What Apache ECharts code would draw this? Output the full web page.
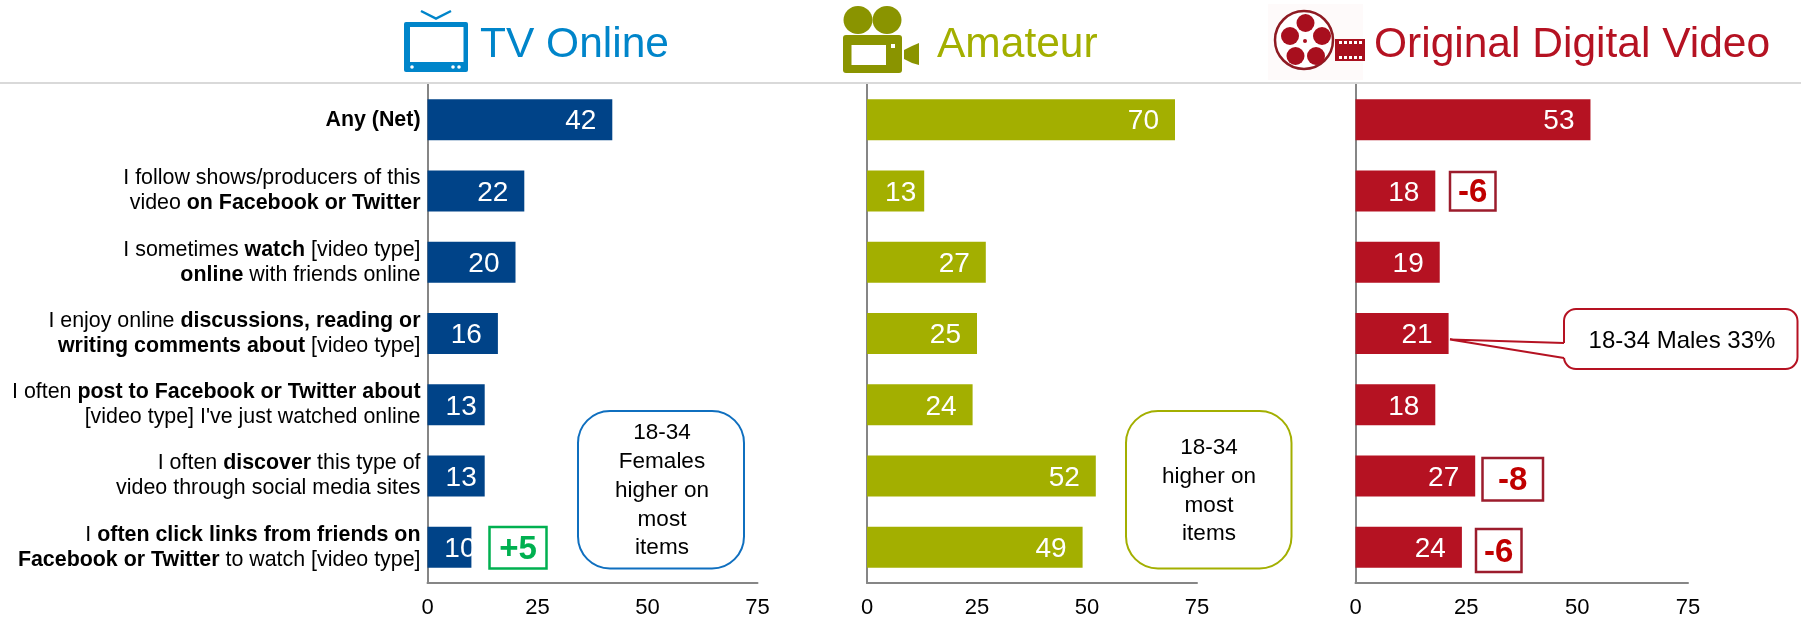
<!DOCTYPE html>
<html>
<head>
<meta charset="utf-8">
<style>html,body{margin:0;padding:0;background:#fff}#c{width:1801px;height:620px}</style>
<script src="https://cdn.jsdelivr.net/npm/echarts@6/dist/echarts.min.js"></script>
</head>
<body>
<div id="c"></div>
<script>
const categories = [
  "{b|Any (Net)}",
  "I follow shows/producers of this\nvideo {b|on Facebook or Twitter}",
  "I sometimes {b|watch} [video type]\n{b|online} with friends online",
  "I enjoy online {b|discussions, reading or}\n{b|writing comments about} [video type]",
  "I often {b|post to Facebook or Twitter about}\n[video type] I've just watched online",
  "I often {b|discover} this type of\nvideo through social media sites",
  "I {b|often click links from friends on}\n{b|Facebook or Twitter} to watch [video type]"
];
const tvOnline = [42, 22, 20, 16, 13, 13, 10];
const amateur = [70, 13, 27, 25, 24, 52, 49];
const originalDigital = [53, 18, 19, 21, 18, 27, 24];
const panelTitles = ["TV Online", "Amateur", "Original Digital Video"];
const FONT = '"Liberation Sans", Arial, sans-serif';
const COL = {tv:'#004388', am:'#A3AF00', od:'#B51222', axis:'#868686', sep:'#D9D9D9'};

const grids = [{left:427.5,width:330},{left:867,width:330},{left:1355.5,width:332.5}]
  .map(g=>({left:g.left,width:g.width,top:84,height:499,containLabel:false}));

function labelGap(v){ return v<=10 ? -4 : (v<=13 ? 8 : 16); }

function series(i,vals,color){
  return {type:'bar',xAxisIndex:i,yAxisIndex:i,barWidth:41,z:2,
    itemStyle:{color:color},
    data:vals.map(v=>({value:v,label:{show:true,position:'insideRight',distance:labelGap(v),offset:[0,2],
      color:'#fff',fontSize:28,fontFamily:FONT,formatter:'{c}'}}))};
}

const t=(x,y,text,o)=>({type:'text',z:20,style:Object.assign({x,y,text,fontFamily:FONT,fill:'#000',align:'center',verticalAlign:'middle'},o||{})});
const rect=(x,y,w,h,s,r,z)=>({type:'rect',z:z||15,shape:{x,y,width:w,height:h,r:r||0},style:s});
const box=(x,y,w,h,stroke,txt,fill,fs)=>[
  rect(x,y,w,h,{fill:'#fff',stroke:stroke,lineWidth:2.5}),
  t(x+w/2,y+h/2+2,txt,{fill:fill,fontSize:fs||33,fontWeight:'bold'})
];
const multi=(cx,ys,lines)=>lines.map((l,i)=>t(cx,ys[i],l,{fontSize:22.5}));

const tvBlue='#0085CA', camGreen='#8A9400', reelRed='#A80F1E';
const graphics=[
  {type:'line',z:1,shape:{x1:0,y1:83,x2:1801,y2:83},style:{stroke:COL.sep,lineWidth:2}},
  t(480,45,panelTitles[0],{fill:tvBlue,fontSize:42.5,align:'left'}),
  t(937,45,panelTitles[1],{fill:COL.am,fontSize:42.5,align:'left'}),
  t(1374,45,panelTitles[2],{fill:COL.od,fontSize:42.5,align:'left'}),
  // TV icon
  rect(404,22,64,50,{fill:tvBlue},2),
  rect(410,27,53.5,35,{fill:'#fff'}),
  {type:'polyline',z:15,shape:{points:[[421,11],[436,18.5],[451,11]]},style:{stroke:tvBlue,lineWidth:2.5,fill:'none'}},
  {type:'circle',z:16,shape:{cx:412,cy:67,r:1.8},style:{fill:'#fff'}},
  {type:'circle',z:16,shape:{cx:453,cy:67,r:1.8},style:{fill:'#fff'}},
  {type:'circle',z:16,shape:{cx:459,cy:67,r:1.8},style:{fill:'#fff'}},
  // camera icon
  {type:'ellipse',z:15,shape:{cx:858,cy:20,rx:14.5,ry:14},style:{fill:camGreen}},
  {type:'ellipse',z:15,shape:{cx:887,cy:20,rx:14.5,ry:14},style:{fill:camGreen}},
  rect(843,35,59,38,{fill:camGreen},3),
  rect(851.5,45,34.5,20,{fill:'#fff'}),
  rect(891,44,4,4,{fill:'#fff'}),
  {type:'polygon',z:15,shape:{points:[[904,50],[912,46],[919,43],[919,65],[912,63],[904,59]]},style:{fill:camGreen}},
  // film reel icon
  rect(1268,4,95,76,{fill:'#FEFAFA'},0,14),
  {type:'circle',z:15,shape:{cx:1304,cy:40,r:29},style:{fill:'#fff',stroke:'#8E1A22',lineWidth:2.5}},
  {type:'circle',z:16,shape:{cx:1305.5,cy:23,r:9},style:{fill:reelRed}},
  {type:'circle',z:16,shape:{cx:1322,cy:36,r:9},style:{fill:reelRed}},
  {type:'circle',z:16,shape:{cx:1316,cy:56,r:9},style:{fill:reelRed}},
  {type:'circle',z:16,shape:{cx:1295.5,cy:56,r:9},style:{fill:reelRed}},
  {type:'circle',z:16,shape:{cx:1290,cy:36,r:9},style:{fill:reelRed}},
  {type:'circle',z:16,shape:{cx:1305,cy:41,r:2},style:{fill:reelRed}},
  rect(1335,39,30,22,{fill:reelRed},0,16),
  ...[1339,1344,1349,1354,1359].flatMap(x=>[rect(x,41,3,3,{fill:'#fff'},0,17),rect(x,56,3,3,{fill:'#fff'},0,17)]),
  // clip of the clipped "10" label
  rect(471.8,525,15,44,{fill:'#fff'},0,12),
  // delta boxes
  ...box(489.5,527,57,41.5,'#00B050','+5','#00B050'),
  ...box(1450,172,45.5,38.5,'#9C1C2C','-6','#C00000'),
  ...box(1482.5,458,60.5,42.5,'#9C1C2C','-8','#C00000'),
  ...box(1476,529,45.5,43,'#9C1C2C','-6','#C00000'),
  // notes
  rect(578,411,166,157.5,{fill:'#fff',stroke:'#0F6FBF',lineWidth:2},32),
  ...multi(662,[433,462,491,520,548],['18-34','Females','higher on','most','items']),
  rect(1126,411,165.5,157.5,{fill:'#fff',stroke:COL.am,lineWidth:2},32),
  ...multi(1209,[447.5,477,505.5,534],['18-34','higher on','most','items']),
  // callout
  rect(1564,309,233.5,60,{fill:'#fff',stroke:COL.od,lineWidth:2},12),
  {type:'polygon',z:16,shape:{points:[[1565,343],[1450,339.5],[1565,358]]},style:{fill:'#fff'}},
  {type:'polyline',z:17,shape:{points:[[1564,343],[1450,339.5],[1564,358]]},style:{stroke:COL.od,lineWidth:2,fill:'none'}},
  t(1682,341,'18-34 Males 33%',{fontSize:24})
];

const xAxes=grids.map((g,i)=>({type:'value',gridIndex:i,min:0,max:75,interval:25,position:'bottom',
  axisLine:{show:true,onZero:false,lineStyle:{color:COL.axis,width:2}},axisTick:{show:false},splitLine:{show:false},
  axisLabel:{color:'#000',fontSize:22,fontFamily:FONT,margin:14}}));
const yAxes=grids.map((g,i)=>({type:'category',gridIndex:i,inverse:true,data:categories,position:'left',
  axisLine:{show:true,lineStyle:{color:COL.axis,width:2}},axisTick:{show:false},
  axisLabel:{show:i===0,interval:0,color:'#000',fontSize:21.4,lineHeight:25,fontFamily:FONT,align:'right',margin:7,
    rich:{b:{fontWeight:'bold',fontSize:21.4,lineHeight:25,fontFamily:FONT,color:'#000'}}}}));

const chart=echarts.init(document.getElementById('c'),null,{renderer:'canvas'});
chart.setOption({
  animation:false,
  backgroundColor:'#fff',
  grid:grids,xAxis:xAxes,yAxis:yAxes,
  series:[series(0,tvOnline,COL.tv),series(1,amateur,COL.am),series(2,originalDigital,COL.od)],
  graphic:{elements:graphics}
});
</script>
</body>
</html>
